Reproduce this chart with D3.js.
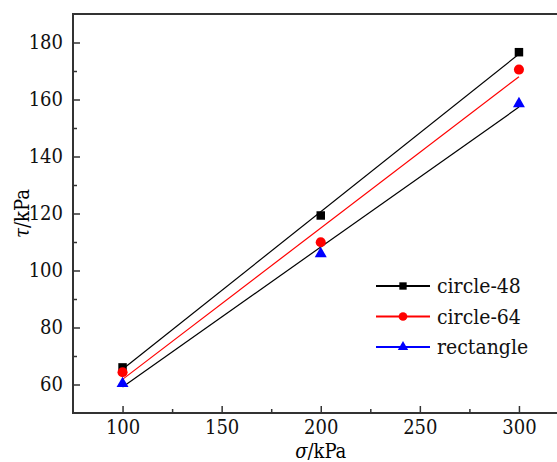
<!DOCTYPE html>
<html>
<head>
<meta charset="utf-8">
<script src="https://cdn.jsdelivr.net/npm/d3@7"></script>
<style>
  body { margin: 0; background: #fff; }
  svg text { font-family: "DejaVu Serif Condensed", "DejaVu Serif", serif !important; font-stretch: condensed; }
</style>
</head>
<body>
<div id="graph"></div>
<script>
// shear strength vs normal stress, three specimen shapes

var sigma = [100, 200, 300];
var circle48 = [66.0, 119.3, 176.6];
var circle64 = [64.3, 109.9, 170.5];
var rectangle = [60.3, 105.9, 158.5];

var seriesNames = ["circle-48", "circle-64", "rectangle"];
var xMajorTicks = [100, 150, 200, 250, 300];
var xMinorTicks = [125, 175, 225, 275];
var yMajorTicks = [60, 80, 100, 120, 140, 160, 180];
var yMinorTicks = [70, 90, 110, 130, 150, 170];

(function() {
	var chart = {
		width: 557,
		height: 462,
		left: 73,
		top: 14,
		right: 568.5,
		bottom: 413
	};

	var series = [
		{ name: seriesNames[0], values: circle48, color: "#000000", fit: "#000000", symbol: d3.symbolSquare, size: 72 },
		{ name: seriesNames[1], values: circle64, color: "#ff0000", fit: "#ff0000", symbol: d3.symbolCircle, size: 80 },
		{ name: seriesNames[2], values: rectangle, color: "#0000ff", fit: "#000000", symbol: d3.symbolTriangle, size: 62 }
	];

	var svg = d3.select("#graph").append("svg")
		.attr("width", chart.width)
		.attr("height", chart.height);

	var x = d3.scaleLinear().domain([75, 325]).range([chart.left, chart.right]);
	var y = d3.scaleLinear().domain([50, 190]).range([chart.bottom, chart.top]);

	// least squares fit for each series
	var fitLine = function(vals) {
		var mx = d3.mean(sigma), my = d3.mean(vals);
		var num = d3.sum(sigma, function(s, i) { return (s - mx) * (vals[i] - my); });
		var den = d3.sum(sigma, function(s) { return (s - mx) * (s - mx); });
		var b = num / den, a = my - b * mx;
		return [sigma[0], sigma[sigma.length - 1]].map(function(s) { return [s, a + b * s]; });
	};

	var line = d3.line()
		.x(function(d) { return x(d[0]); })
		.y(function(d) { return y(d[1]); });

	// fit lines
	svg.append("g").selectAll("path")
		.data(series)
		.enter().append("path")
		.attr("d", function(d) { return line(fitLine(d.values)); })
		.attr("fill", "none")
		.attr("stroke", function(d) { return d.fit; })
		.attr("stroke-width", 1.2);

	// markers
	series.forEach(function(s) {
		svg.append("g").selectAll("path")
			.data(s.values)
			.enter().append("path")
			.attr("d", d3.symbol().type(s.symbol).size(s.size))
			.attr("transform", function(v, i) { return "translate(" + x(sigma[i]) + "," + y(v) + ")"; })
			.attr("fill", s.color);
	});

	// axes
	var styleAxis = function(g) {
		g.attr("font-family", null);
		g.select(".domain").remove();
		g.selectAll(".tick line").attr("stroke", "#333").attr("stroke-width", 1.5);
		g.selectAll(".tick text").attr("fill", "#111").style("font-size", "20px");
	};

	svg.append("g")
		.attr("transform", "translate(" + chart.left + ",0)")
		.call(d3.axisLeft(y).tickValues(yMajorTicks).tickSize(-7).tickPadding(10).tickFormat(d3.format("d")))
		.call(styleAxis);
	svg.append("g")
		.attr("transform", "translate(" + chart.left + ",0)")
		.call(d3.axisLeft(y).tickValues(yMinorTicks).tickSize(-4).tickFormat(""))
		.call(styleAxis);

	svg.append("g")
		.attr("transform", "translate(0," + chart.bottom + ")")
		.call(d3.axisBottom(x).tickValues(xMajorTicks).tickSize(-7).tickPadding(7).tickFormat(d3.format("d")))
		.call(styleAxis);
	svg.append("g")
		.attr("transform", "translate(0," + chart.bottom + ")")
		.call(d3.axisBottom(x).tickValues(xMinorTicks).tickSize(-4).tickFormat(""))
		.call(styleAxis);

	// frame
	svg.append("path")
		.attr("d", "M" + chart.right + "," + chart.top + "H" + chart.left + "V" + chart.bottom + "H" + chart.right)
		.attr("fill", "none")
		.attr("stroke", "#333")
		.attr("stroke-width", 2);

	// axis titles
	var yt = svg.append("text")
		.attr("transform", "translate(29," + ((chart.top + chart.bottom) / 2) + ") rotate(-90)")
		.attr("text-anchor", "middle")
		.style("font-size", "20px");
	yt.append("tspan").style("font-style", "italic").text("τ");
	yt.append("tspan").text("/kPa");

	var xt = svg.append("text")
		.attr("x", (chart.left + chart.right) / 2)
		.attr("y", 457.5)
		.attr("text-anchor", "middle")
		.style("font-size", "20px");
	xt.append("tspan").style("font-style", "italic").text("σ");
	xt.append("tspan").text("/kPa");

	// legend
	var legend = svg.append("g").selectAll("g")
		.data(series)
		.enter().append("g")
		.attr("transform", function(d, i) { return "translate(376," + (286 + i * 30.5) + ")"; });

	legend.append("line")
		.attr("x1", 0).attr("x2", 54)
		.attr("stroke", function(d) { return d.color; })
		.attr("stroke-width", 2.2);
	legend.append("path")
		.attr("d", function(d) { return d3.symbol().type(d.symbol).size(d.size * 0.75)(); })
		.attr("transform", "translate(27,0)")
		.attr("fill", function(d) { return d.color; });
	legend.append("text")
		.attr("x", 61)
		.attr("y", 7)
		.style("font-size", "21px")
		.attr("fill", "#111")
		.text(function(d) { return d.name; });
})();
</script>
</body>
</html>
